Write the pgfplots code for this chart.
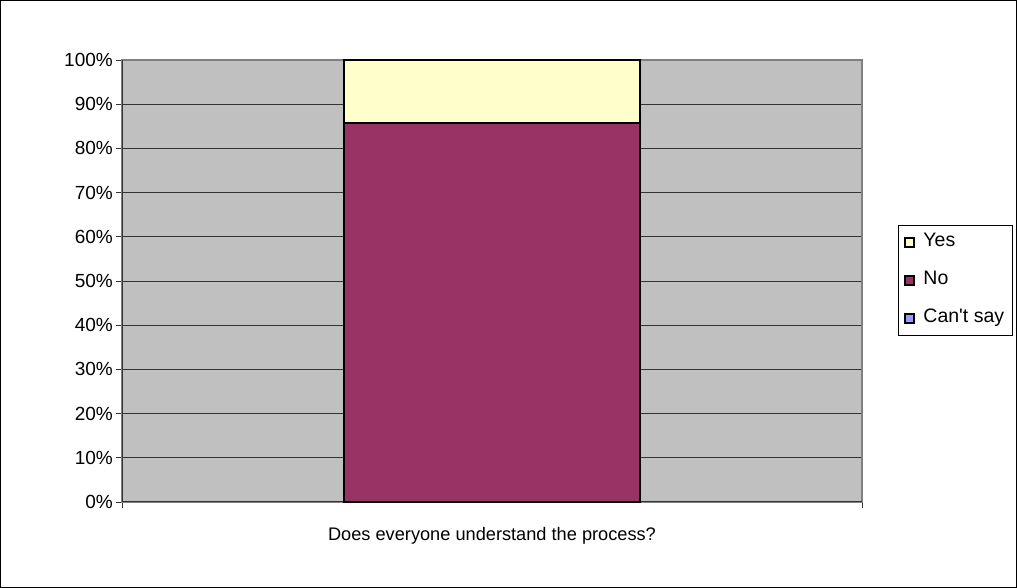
\documentclass[border=0pt]{standalone}
\usepackage{pgfplots}
\pgfplotsset{compat=1.18}
\usepackage{fontspec}
\setmainfont{Liberation Sans}[Ligatures=TeXOff]
\definecolor{plotgray}{HTML}{C0C0C0}
\definecolor{framegray}{HTML}{808080}
\definecolor{nocol}{HTML}{993366}
\definecolor{yescol}{HTML}{FFFFCC}
\definecolor{cantcol}{HTML}{9999FF}
\begin{document}
\begin{tikzpicture}[x=1pt,y=1pt,font=\fontsize{18pt}{21pt}\selectfont]
\useasboundingbox (0,0) rectangle (1017,588);
\draw[black, line width=1pt] (0.5,0.5) rectangle (1016.5,587.5);
\begin{axis}[
  at={(122pt,86pt)}, anchor=south west,
  scale only axis, width=740pt, height=442pt,
  xmin=-0.5, xmax=0.5, ymin=0, ymax=100,
  ybar stacked, bar width=0.4,
  axis background/.style={fill=plotgray},
  axis line style={draw=framegray, line width=1.5pt},
  ymajorgrids, grid style={draw=black!80, line width=0.8pt},
  ytick={0,10,...,100},
  yticklabel={\pgfmathprintnumber{\tick}\%},
  xtick={-0.5,0.5}, xticklabels={},
  tick pos=left, tick align=outside, major tick length=6pt,
  tick style={draw=black!80, line width=0.8pt},
  /pgf/number format/assume math mode=true,
  yticklabel style={font=\fontsize{19pt}{22pt}\selectfont, inner sep=0pt, xshift=-3pt},
  xlabel={Does everyone understand the process?},
  xlabel style={at={(axis description cs:0.5,0)}, anchor=center, yshift=-34pt,
    font=\fontsize{18.2pt}{21pt}\selectfont},
  reverse legend,
  legend style={at={(1.0486,0.6267)}, anchor=north west, draw=black, line width=0.6pt,
    fill=white, row sep=17pt, column sep=6pt, inner xsep=6pt, inner ysep=6.5pt,
    font=\fontsize{19.5pt}{22pt}\selectfont, cells={anchor=west},
    nodes={text height=13pt, text depth=4pt, inner sep=2pt}},
  legend image code/.code={\draw[#1, line width=2.2pt] (0pt,-4.5pt) rectangle (9pt,4.5pt);},
  clip=false,
]
\addplot[fill=cantcol, draw=black, line width=1.5pt] coordinates {(0,0)};
\addplot[fill=nocol, draw=black, line width=1.5pt] coordinates {(0,85.7)};
\addplot[fill=yescol, draw=black, line width=1.5pt] coordinates {(0,14.3)};
\legend{Can't say, No, Yes}
\draw[black!80, line width=1pt] (rel axis cs:0,0) -- (rel axis cs:0,1);
\draw[black!80, line width=1pt] (rel axis cs:0,0) -- (rel axis cs:1,0);
\end{axis}
\end{tikzpicture}
\end{document}
